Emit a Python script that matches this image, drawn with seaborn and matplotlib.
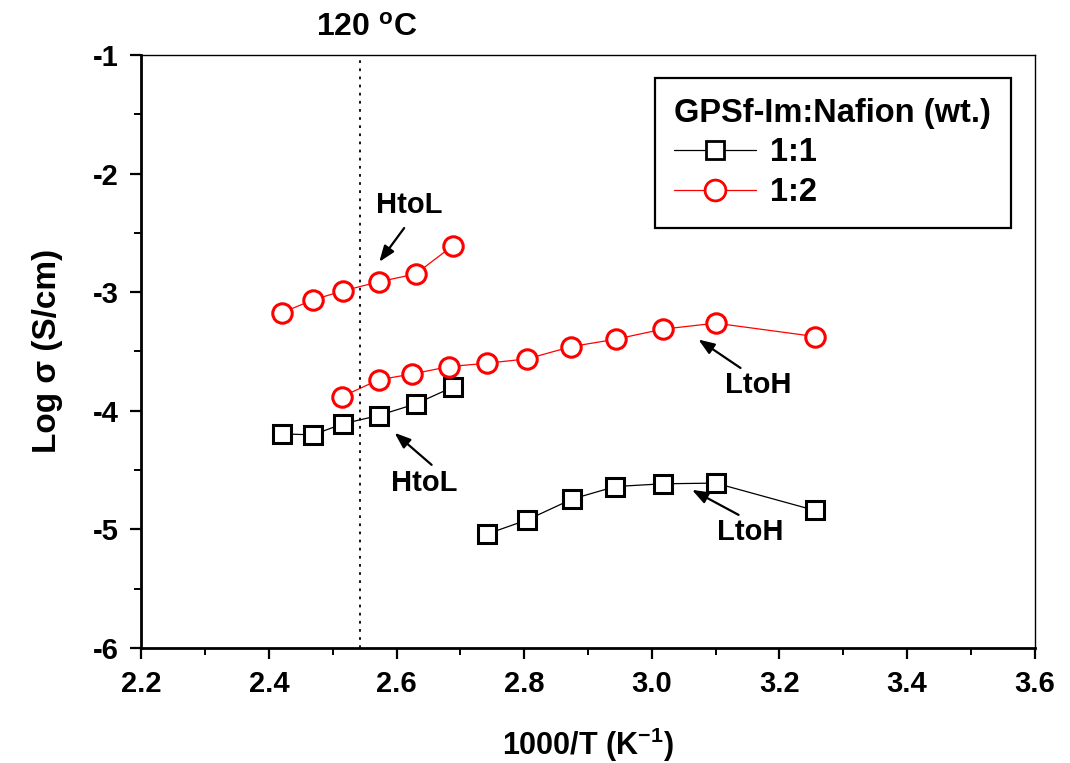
import matplotlib
matplotlib.use("Agg")
import matplotlib.pyplot as plt
from matplotlib.lines import Line2D
from matplotlib.ticker import MultipleLocator
import numpy as np
import pandas as pd
import seaborn as sns

# 1:1 blend, heating-to-low (HtoL) and low-to-high (LtoH) runs
X_11_HTOL = [2.420, 2.469, 2.516, 2.572, 2.630, 2.688]
Y_11_HTOL = [-4.196, -4.204, -4.111, -4.041, -3.943, -3.802]
X_11_LTOH = [2.742, 2.805, 2.875, 2.943, 3.017, 3.100, 3.256]
Y_11_LTOH = [-5.040, -4.921, -4.746, -4.640, -4.617, -4.611, -4.842]

# 1:2 blend
X_12_HTOL = [2.420, 2.469, 2.516, 2.572, 2.630, 2.688]
Y_12_HTOL = [-3.175, -3.066, -2.990, -2.914, -2.847, -2.610]
X_12_LTOH = [2.515, 2.572, 2.625, 2.683, 2.742, 2.805, 2.874, 2.944, 3.017, 3.100, 3.256]
Y_12_LTOH = [-3.881, -3.740, -3.690, -3.628, -3.600, -3.563, -3.460, -3.397, -3.313, -3.262, -3.375]

RATIOS = ["1:1", "1:2"]
COLORS = {"1:1": "black", "1:2": "red"}
MARKERS = {"1:1": "s", "1:2": "o"}
T_120C = 1000 / (120 + 273.15)
FS = 21


def build_frame() -> pd.DataFrame:
    parts = [
        ("1:1", "HtoL", X_11_HTOL, Y_11_HTOL),
        ("1:1", "LtoH", X_11_LTOH, Y_11_LTOH),
        ("1:2", "HtoL", X_12_HTOL, Y_12_HTOL),
        ("1:2", "LtoH", X_12_LTOH, Y_12_LTOH),
    ]
    rows = []
    for ratio, run, xs, ys in parts:
        for x, y in zip(xs, ys):
            rows.append({"ratio": ratio, "run": run, "x": x, "y": y})
    return pd.DataFrame(rows)


def main() -> None:
    sns.set_theme(style="ticks")
    plt.rcParams["font.family"] = ["Liberation Sans", "DejaVu Sans"]
    plt.rcParams["font.weight"] = "bold"
    plt.rcParams["text.color"] = "black"
    plt.rcParams["axes.labelcolor"] = "black"
    plt.rcParams["xtick.color"] = "black"
    plt.rcParams["ytick.color"] = "black"
    plt.rcParams["axes.unicode_minus"] = False
    plt.rcParams["mathtext.fontset"] = "custom"
    plt.rcParams["mathtext.rm"] = "Liberation Sans:bold"
    plt.rcParams["mathtext.it"] = "Liberation Sans:bold"
    plt.rcParams["mathtext.bf"] = "Liberation Sans:bold"

    df = build_frame()
    fig, ax = plt.subplots(figsize=(10.7, 7.63), dpi=100)
    fig.subplots_adjust(left=0.132, right=0.967, top=0.928, bottom=0.151)

    for (ratio, run), sub in df.groupby(["ratio", "run"]):
        c = COLORS[ratio]
        sns.lineplot(data=sub, x="x", y="y", ax=ax, sort=False, color=c, linewidth=0.9,
                     marker=MARKERS[ratio], markersize=14 if ratio == "1:2" else 13,
                     markerfacecolor="white", markeredgecolor=c, markeredgewidth=2.2,
                     legend=False)

    ax.axvline(T_120C, color="black", linestyle=(0, (1.5, 3)), linewidth=1.3)
    ax.text(2.553, -0.77, r"120 $^{o}$C", ha="center", va="center", fontsize=FS + 2,
            fontweight="bold", clip_on=False)

    arrows = [
        ("HtoL", (2.620, -2.265), (2.612, -2.46), (2.573, -2.745)),
        ("LtoH", (3.167, -3.782), (3.139, -3.64), (3.073, -3.40)),
        ("HtoL", (2.644, -4.609), (2.655, -4.457), (2.597, -4.187)),
        ("LtoH", (3.155, -5.022), (3.136, -4.879), (3.063, -4.668)),
    ]
    for label, txt, tail, head in arrows:
        ax.text(*txt, label, ha="center", va="center", fontsize=FS, fontweight="bold")
        ax.annotate("", xy=head, xytext=tail,
                    arrowprops=dict(arrowstyle="-|>,head_length=0.8,head_width=0.3",
                                    color="black", lw=1.6, shrinkA=0, shrinkB=0))

    ax.set_xlim(2.2, 3.6)
    ax.set_ylim(-6, -1)
    ax.xaxis.set_major_locator(MultipleLocator(0.2))
    ax.xaxis.set_minor_locator(MultipleLocator(0.1))
    ax.yaxis.set_major_locator(MultipleLocator(1))
    ax.yaxis.set_minor_locator(MultipleLocator(0.5))
    ax.xaxis.set_major_formatter(plt.FormatStrFormatter("%.1f"))
    ax.yaxis.set_major_formatter(plt.FormatStrFormatter("%d"))
    ax.tick_params(axis="both", which="major", direction="out", length=8, width=1.6,
                   labelsize=FS, top=False, right=False, pad=8)
    ax.tick_params(axis="both", which="minor", direction="out", length=5, width=1.4,
                   top=False, right=False)
    for tick in ax.get_xticklabels() + ax.get_yticklabels():
        tick.set_fontweight("bold")
    for side, spine in ax.spines.items():
        spine.set_color("black")
        spine.set_linewidth(2.0 if side in ("left", "bottom") else 1.0)
    ax.set_xlabel(r"1000/T (K$^{-1}$)", fontsize=FS + 1, fontweight="bold", labelpad=20)
    ax.set_ylabel(r"Log σ (S/cm)", fontsize=FS + 3, fontweight="bold", labelpad=22)
    ax.grid(False)

    handles = [
        Line2D([], [], color=COLORS[r], lw=0.9, marker=MARKERS[r],
               markersize=15 if r == "1:2" else 13, markerfacecolor="white",
               markeredgecolor=COLORS[r], markeredgewidth=2.0)
        for r in RATIOS
    ]
    leg = ax.legend(handles, RATIOS, title="GPSf-Im:Nafion (wt.)", loc="upper right",
                    bbox_to_anchor=(0.973, 0.961), borderaxespad=0,
                    fontsize=23.5, title_fontsize=23.5,
                    frameon=True, fancybox=False, edgecolor="black", framealpha=1,
                    handlelength=2.5, handletextpad=0.45, borderpad=0.6, labelspacing=0.27,
                    alignment="left")
    leg.get_frame().set_linewidth(1.6)
    leg.get_title().set_fontweight("bold")
    for t in leg.get_texts():
        t.set_fontweight("bold")

    fig.savefig("out.png", dpi=100, facecolor="white")
    plt.close(fig)


if __name__ == "__main__":
    main()
